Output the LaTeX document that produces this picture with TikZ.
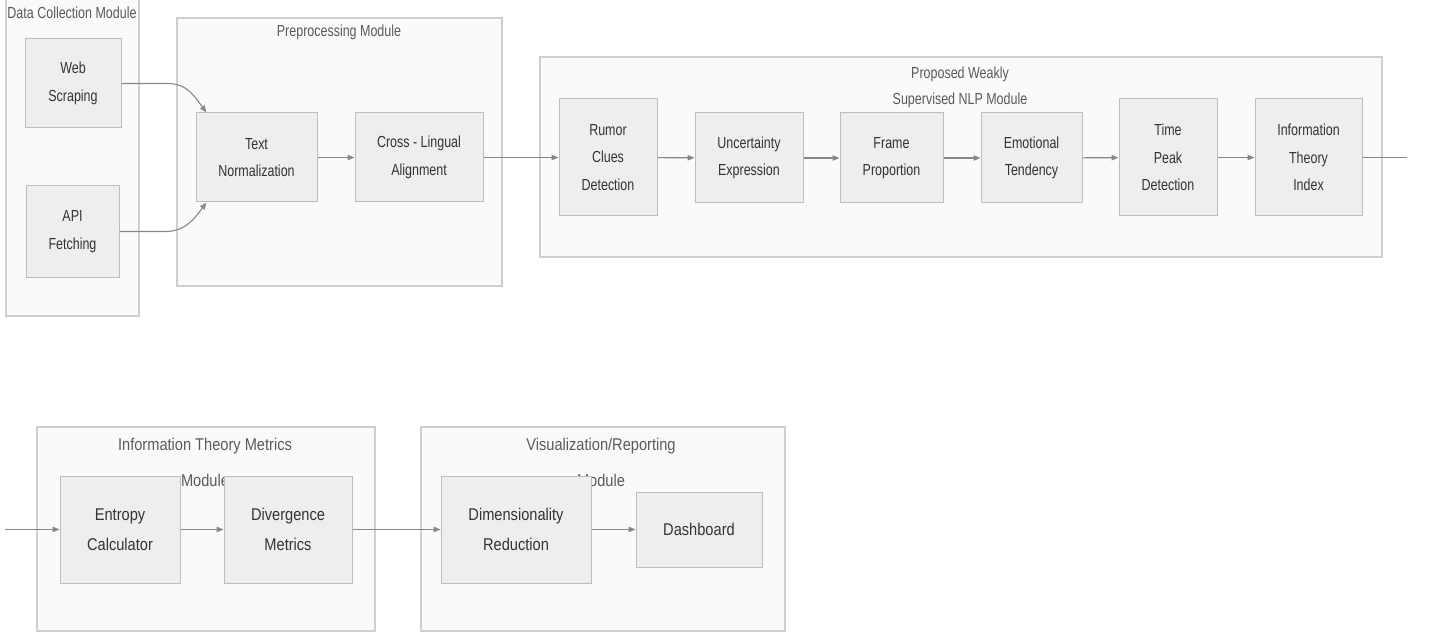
\documentclass[tikz,border=0pt]{standalone}
\usepackage{fontspec}
\usetikzlibrary{arrows.meta}
\newfontfamily\topfont{Liberation Sans}[FakeStretch=0.78]
\newfontfamily\botfont{Liberation Sans}[FakeStretch=0.86]
\definecolor{modfill}{HTML}{FAFAFA}
\definecolor{moddraw}{HTML}{CFCFCF}
\definecolor{boxfill}{HTML}{EEEEEE}
\definecolor{boxdraw}{HTML}{BDBDBD}
\definecolor{txt}{HTML}{333333}
\definecolor{ttl}{HTML}{5A5A5A}
\definecolor{arrc}{HTML}{888888}
\tikzset{
  module/.style={draw=moddraw, fill=modfill, line width=1.3pt, inner sep=0pt, rectangle},
  stage/.style={draw=boxdraw, fill=boxfill, line width=1pt, inner sep=0pt, rectangle, align=center, text=txt},
  tstage/.style={stage, font=\topfont\fontsize{16}{27.5}\selectfont},
  bstage/.style={stage, font=\botfont\fontsize{17}{30}\selectfont},
  ttitle/.style={text=ttl, align=center, inner sep=0pt, font=\topfont\fontsize{16}{26}\selectfont},
  btitle/.style={text=ttl, align=center, inner sep=0pt, font=\botfont\fontsize{17}{36}\selectfont},
  arr/.style={draw=arrc, line width=1.1pt, -{Triangle[length=7pt,width=5.5pt]}},
  lin/.style={draw=arrc, line width=1.1pt}
}
\begin{document}
\begin{tikzpicture}[x=1pt,y=-1pt]
\useasboundingbox (0,0) rectangle (1434,636);
\fill[white] (0,0) rectangle (1434,636);

% ---- modules (backgrounds) ----
\node[module, minimum width=133pt, minimum height=320pt] (dcm) at (72.5,156) {};
\node[ttitle] (dcmt) at (72,13) {Data Collection Module};

\node[module, minimum width=325pt, minimum height=268pt] (pre) at (339.5,152) {};
\node[ttitle] (pret) at (339,32) {Preprocessing Module};

\node[module, minimum width=842pt, minimum height=200pt] (nlp) at (961,157) {};
\node[ttitle] (nlpt) at (960,87) {Proposed Weakly\\Supervised NLP Module};

\node[module, minimum width=338pt, minimum height=204pt] (itm) at (206,529) {};
\node[btitle] (itmt) at (205,462) {Information Theory Metrics\\Module};

\node[module, minimum width=364pt, minimum height=204pt] (vis) at (603,529) {};
\node[btitle] (vist) at (601,462) {Visualization/Reporting\\Module};

% ---- stages ----
\node[tstage, minimum width=96pt, minimum height=89pt] (ws) at (73,83.5) {Web\\Scraping};
\node[tstage, minimum width=93pt, minimum height=91pt] (api) at (72.5,231.5) {API\\Fetching};

\node[tstage, minimum width=121pt, minimum height=89pt] (tn) at (256.5,157.5) {Text\\Normalization};
\node[tstage, minimum width=128pt, minimum height=89pt] (cla) at (419,157.5) {Cross - Lingual\\Alignment};

\node[tstage, minimum width=98pt, minimum height=117pt] (rum) at (608,157.5) {Rumor\\Clues\\Detection};
\node[tstage, minimum width=108pt, minimum height=90pt] (unc) at (749,158) {Uncertainty\\Expression};
\node[tstage, minimum width=103pt, minimum height=90pt] (frm) at (891.5,158) {Frame\\Proportion};
\node[tstage, minimum width=101pt, minimum height=90pt] (emo) at (1031.5,158) {Emotional\\Tendency};
\node[tstage, minimum width=98pt, minimum height=117pt] (tpd) at (1168,157.5) {Time\\Peak\\Detection};
\node[tstage, minimum width=107pt, minimum height=117pt] (iti) at (1308.5,157.5) {Information\\Theory\\Index};
\coordinate (outr) at (1407,157.5);

\coordinate (inl) at (5,529.5);
\node[bstage, minimum width=120pt, minimum height=107pt] (ent) at (120,529.5) {Entropy\\Calculator};
\node[bstage, minimum width=128pt, minimum height=107pt] (div) at (288,529.5) {Divergence\\Metrics};
\node[bstage, minimum width=150pt, minimum height=107pt] (dim) at (516,529.5) {Dimensionality\\Reduction};
\node[bstage, minimum width=126pt, minimum height=75pt] (dash) at (699,529.5) {Dashboard};

% ---- connectors ----
\draw[arr] (ws.east) -- ++(46,0) .. controls +(20,0) and +(-12,-16) .. ([xshift=11pt]tn.north west);
\draw[arr] (api.east) -- ++(46,0) .. controls +(20,0) and +(-12,16) .. ([xshift=11pt]tn.south west);
\draw[arr] (tn) -- (cla);
\draw[arr] (cla) -- (rum);
\draw[arr] (rum) -- (unc);
\draw[arr] (unc) -- (frm);
\draw[arr] (frm) -- (emo);
\draw[arr] (emo) -- (tpd);
\draw[arr] (tpd) -- (iti);
\draw[lin] (iti.east) -- (outr);

\draw[arr] (inl) -- (ent.west);
\draw[arr] (ent) -- (div);
\draw[arr] (div) -- (dim);
\draw[arr] (dim) -- (dash);
\end{tikzpicture}
\end{document}
